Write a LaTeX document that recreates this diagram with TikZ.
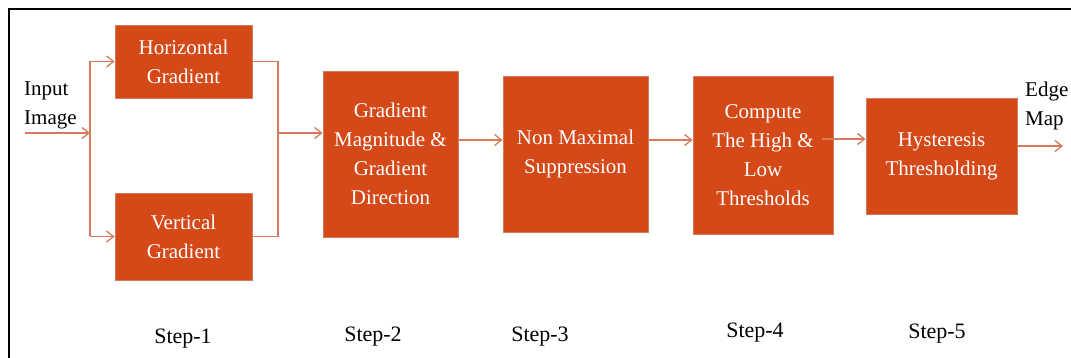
\documentclass[tikz,border=0pt]{standalone}
\usepackage{fontspec}
\setmainfont{Liberation Serif}
\usepackage{tikz}
\usetikzlibrary{arrows.meta}
\definecolor{boxfill}{RGB}{213,72,24}
\definecolor{flowc}{RGB}{214,122,92}
\tikzset{
  stage/.style={draw=flowc, line width=0.8pt, fill=boxfill, text=white,
    align=center, inner sep=0pt, font=\fontsize{21}{29}\selectfont},
  lbl/.style={inner sep=0pt, font=\fontsize{21}{29}\selectfont},
  steplbl/.style={inner sep=0pt, font=\fontsize{22}{29}\selectfont},
  wire/.style={draw=flowc, line width=1.3pt},
  flow/.style={wire, -{Straight Barb[length=7pt,width=11pt]}},
}

\begin{document}
\begin{tikzpicture}[x=1pt,y=-1pt]
            \useasboundingbox (0,0) rectangle (1071,358);
            % Frame
            \draw[line width=1.6pt] (9,360) -- (9,9) -- (1073,9);

            % Boxes
            \node[stage, minimum width=137, minimum height=73] (hgrad) at (183.5,61.5) {Horizontal\\Gradient};
            \node[stage, minimum width=137, minimum height=87] (vgrad) at (183.5,236.5) {Vertical\\Gradient};
            \node[stage, minimum width=135, minimum height=166] (gmag) at (390.5,154) {Gradient\\Magnitude \&\\Gradient\\Direction};
            \node[stage, minimum width=145, minimum height=156] (nms) at (575.5,154) {Non Maximal\\Suppression};
            \node[stage, minimum width=140, minimum height=158] (thr) at (763,155) {Compute\\The High \&\\Low\\Thresholds};
            \node[stage, minimum width=151, minimum height=116] (hyst) at (941.5,156) {Hysteresis\\Thresholding};

            % Input and output
            \node[lbl, align=left, anchor=north west] (inimg) at (24,82) {Input\\Image};
            \node[lbl, align=left, anchor=north west] (edgemap) at (1025,82) {Edge\\Map};
            \coordinate (in) at (25,133);
            \coordinate (split) at (90,133);
            \coordinate (merge) at (278,133);
            \coordinate (out) at (1063,146);

            % Arrows
            \draw[flow] (in) -- (split);
            \draw[wire] (split |- hgrad.west) -- (split |- vgrad.west);
            \draw[flow] (split |- hgrad.west) -- (hgrad.west);
            \draw[flow] (split |- vgrad.west) -- (vgrad.west);
            \draw[wire] (hgrad.east) -| (merge);
            \draw[wire] (vgrad.east) -| (merge);
            \draw[flow] (merge) -- (merge -| gmag.west);
            \draw[flow] ([yshift=14]gmag.east) -- ([yshift=14]nms.west);
            \draw[flow] ([yshift=14]nms.east) -- ([yshift=15]thr.west);
            \draw[flow] ([xshift=-11,yshift=16]thr.east) -- ([yshift=17]hyst.west);
            \draw[flow] ([yshift=10]hyst.east) -- (out);

            % Steps
            \node[steplbl, anchor=base] (s1) at (183,343) {Step-1};
            \node[steplbl, anchor=base] (s2) at (373,341) {Step-2};
            \node[steplbl, anchor=base] (s3) at (540,341) {Step-3};
            \node[steplbl, anchor=base] (s4) at (755,337) {Step-4};
            \node[steplbl, anchor=base] (s5) at (937,338) {Step-5};
\end{tikzpicture}
\end{document}
